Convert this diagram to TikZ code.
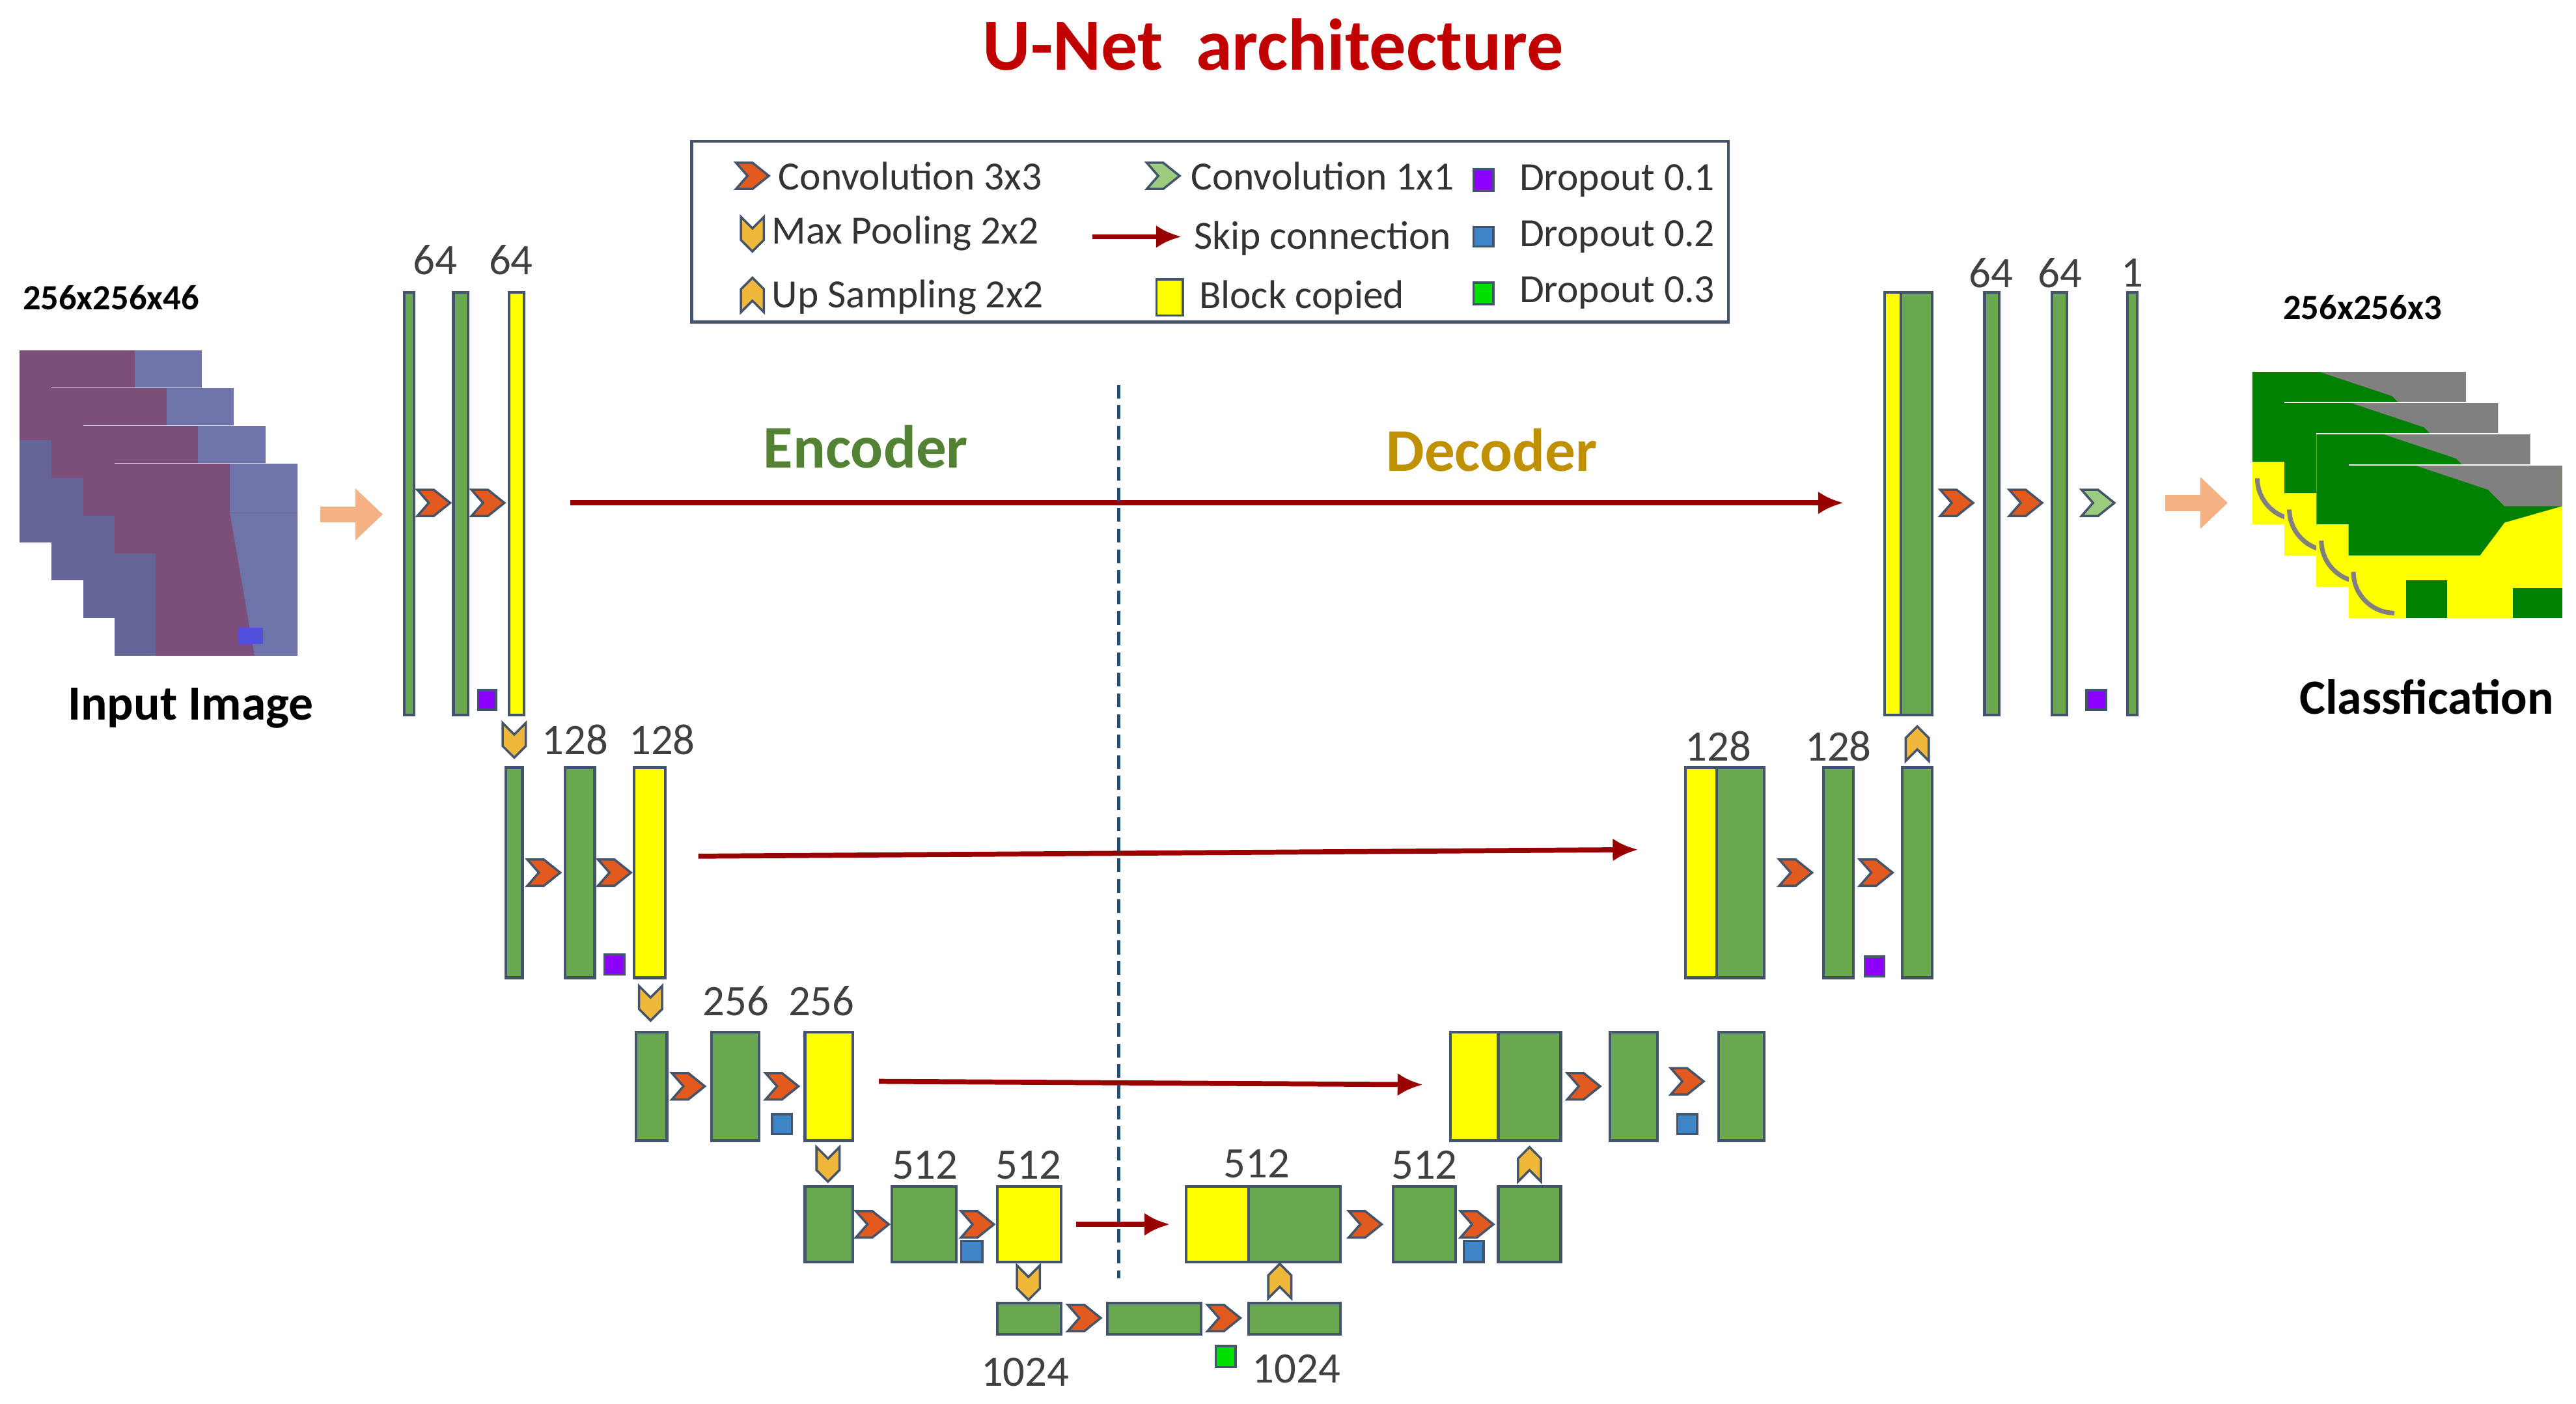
\documentclass[tikz,border=0pt]{standalone}
\usepackage{fontspec}
\setmainfont{Carlito}
\usetikzlibrary{arrows.meta}
\begin{document}
\definecolor{gr}{HTML}{6AA84F}
\definecolor{bd}{HTML}{44546A}
\definecolor{yl}{HTML}{FFFF00}
\definecolor{org}{HTML}{E35A1E}
\definecolor{gold}{HTML}{F0B83A}
\definecolor{lgr}{HTML}{9BCB7F}
\definecolor{skip}{HTML}{990000}
\definecolor{peach}{HTML}{F4B183}
\definecolor{ttl}{HTML}{C00000}
\definecolor{enc}{HTML}{548235}
\definecolor{dec}{HTML}{BF9000}
\definecolor{purp}{HTML}{8B00FF}
\definecolor{blu}{HTML}{3D85C6}
\definecolor{grn}{HTML}{00E000}
\begin{tikzpicture}[x=0.2524mm,y=-0.2524mm,
  blk/.style={draw=bd,line width=1.2pt},
  num/.style={font=\fontsize{19}{21}\selectfont,text=black!75},
  leg/.style={font=\fontsize{17.5}{19}\selectfont,text=black!80,anchor=west},
  bold/.style={font=\bfseries\fontsize{21.5}{23}\selectfont},
  skiparr/.style={draw=skip,line width=2.2pt,-{Latex[length=11pt,width=10pt]}},
  conv/.pic={\draw[fill=org,draw=bd,line width=1pt] (-10,-8)--(0,-8)--(10,0)--(0,8)--(-10,8)--(-3,0)--cycle;},
  convg/.pic={\draw[fill=lgr,draw=bd,line width=1pt] (-10,-8)--(0,-8)--(10,0)--(0,8)--(-10,8)--(-3,0)--cycle;},
  pool/.pic={\draw[fill=gold,draw=bd,line width=1pt] (-7,-10)--(0,-3)--(7,-10)--(7,4)--(0,11)--(-7,4)--cycle;},
  ups/.pic={\draw[fill=gold,draw=bd,line width=1pt] (-7,10)--(0,3)--(7,10)--(7,-4)--(0,-11)--(-7,-4)--cycle;},
  sq/.style={draw=bd,line width=1pt}
]
\useasboundingbox (0,0) rectangle (1568,854);
\node[font=\bfseries\fontsize{32}{35}\selectfont,text=ttl] (title) at (775,27) {U-Net\ \ architecture};
% legend
\draw[draw=bd,line width=1.3pt] (421,86) rectangle (1052,196);
\pic at (458,107) {conv}; \node[leg] (l1) at (469,107) {Convolution 3x3};
\pic at (708,107) {convg}; \node[leg] (l2) at (720,107) {Convolution 1x1};
\draw[sq,fill=purp] (897,103) rectangle (909,116); \node[leg] (l3) at (920,110) {Dropout 0.1};
\pic at (458,142) {pool}; \node[leg] (l4) at (465,142) {Max Pooling 2x2};
\coordinate (la) at (665,144); \coordinate (lb) at (719,144);
\draw[skiparr] (la) -- (lb); \node[leg] (l5) at (722,145) {Skip connection};
\draw[sq,fill=blu] (897,138) rectangle (909,150); \node[leg] (l6) at (920,144) {Dropout 0.2};
\pic at (458,180) {ups}; \node[leg] (l7) at (465,181) {Up Sampling 2x2};
\draw[sq,fill=yl] (704,170) rectangle (720,192); \node[leg] (l8) at (725,181) {Block copied};
\draw[sq,fill=grn] (897,172) rectangle (909,185); \node[leg] (l9) at (920,178) {Dropout 0.3};
% input images
\foreach \i in {0,1,2,3}{
  \begin{scope}[shift={(12+19.3*\i,213+23*\i)}]
    \fill[fill={rgb,255:red,124;green,78;blue,122}] (0,0) rectangle (111,117);
    \fill[fill={rgb,255:red,110;green,115;blue,170}] (70,0) rectangle (111,30);
    \fill[fill={rgb,255:red,110;green,115;blue,170}] (70,30) -- (111,30) -- (111,117) -- (85,117) -- cycle;
    \fill[fill={rgb,255:red,100;green,100;blue,150}] (0,55) rectangle (25,117);
    \fill[fill={rgb,255:red,80;green,80;blue,220}] (75,100) rectangle (90,110);
    \draw[white,opacity=0.7] (0,0) -- (111,0);
  \end{scope}}
\node[font=\bfseries\fontsize{15.5}{17}\selectfont,anchor=west] (in1) at (9,181) {256x256x46};
\node[bold] (in2) at (116,431) {Input Image};
\draw[peach,line width=7pt,-{Triangle[length=12pt,width=22pt]}] (195,313) -- (233,313);
% encoder level 1
\draw[blk,fill=gr] (246,178) rectangle (252,435);
\draw[blk,fill=gr] (276,178) rectangle (285,435);
\draw[blk,fill=yl] (310,178) rectangle (319,435);
\node[num] (n1) at (265,158) {64}; \node[num] (n2) at (311,158) {64};
\pic at (264,306) {conv}; \pic at (297,306) {conv};
\draw[sq,fill=purp] (291,420) rectangle (302,432);
% level 2
\pic at (313,450) {pool};
\draw[blk,fill=gr] (308,467) rectangle (318,595);
\draw[blk,fill=gr] (344,467) rectangle (362,595);
\draw[blk,fill=yl] (386,467) rectangle (405,595);
\node[num] (n3) at (350,450) {128}; \node[num] (n4) at (403,450) {128};
\pic at (331,531) {conv}; \pic at (374,531) {conv};
\draw[sq,fill=purp] (368,581) rectangle (380,593);
% level 3
\pic at (396,610) {pool};
\draw[blk,fill=gr] (387,628) rectangle (406,694);
\draw[blk,fill=gr] (433,628) rectangle (462,694);
\draw[blk,fill=yl] (490,628) rectangle (519,694);
\node[num] (n5) at (448,609) {256}; \node[num] (n6) at (500,609) {256};
\pic at (419,661) {conv}; \pic at (476,661) {conv};
\draw[sq,fill=blu] (470,678) rectangle (482,690);
% level 4
\pic at (504,708) {pool};
\draw[blk,fill=gr] (490,722) rectangle (519,768);
\draw[blk,fill=gr] (543,722) rectangle (582,768);
\draw[blk,fill=yl] (607,722) rectangle (646,768);
\node[num] (n7) at (563,709) {512}; \node[num] (n8) at (626,709) {512};
\pic at (531,745) {conv}; \pic at (595,745) {conv};
\draw[sq,fill=blu] (585,755) rectangle (598,768);
% bottom
\pic at (626,780) {pool};
\draw[blk,fill=gr] (607,793) rectangle (646,812);
\draw[blk,fill=gr] (674,793) rectangle (731,812);
\draw[blk,fill=gr] (760,793) rectangle (816,812);
\pic at (660,802) {conv}; \pic at (745,802) {conv};
\draw[sq,fill=grn] (740,819) rectangle (752,832);
\node[num] (n9) at (624,835) {1024}; \node[num] (n10) at (789,833) {1024};
\pic at (779,780) {ups};
% decoder level 4
\draw[blk,fill=yl] (722,722) rectangle (760,768);
\draw[blk,fill=gr] (760,722) rectangle (816,768);
\node[num] (n11) at (765,708) {512};
\pic at (831,745) {conv};
\draw[blk,fill=gr] (848,722) rectangle (886,768);
\node[num] (n12) at (867,709) {512};
\pic at (899,745) {conv};
\draw[sq,fill=blu] (891,755) rectangle (903,768);
\draw[blk,fill=gr] (912,722) rectangle (950,768);
\pic at (931,709) {ups};
% decoder level 3
\draw[blk,fill=yl] (883,628) rectangle (912,694);
\draw[blk,fill=gr] (912,628) rectangle (950,694);
\pic at (964,661) {conv};
\draw[blk,fill=gr] (980,628) rectangle (1009,694);
\pic at (1027,658) {conv};
\draw[sq,fill=blu] (1021,678) rectangle (1033,690);
\draw[blk,fill=gr] (1046,628) rectangle (1074,694);
% decoder level 2
\draw[blk,fill=yl] (1026,467) rectangle (1045,595);
\draw[blk,fill=gr] (1045,467) rectangle (1074,595);
\node[num] (n13) at (1046,454) {128};
\pic at (1093,531) {conv};
\draw[blk,fill=gr] (1110,467) rectangle (1128,595);
\node[num] (n14) at (1119,454) {128};
\pic at (1142,531) {conv};
\draw[sq,fill=purp] (1135,582) rectangle (1147,594);
\draw[blk,fill=gr] (1158,467) rectangle (1176,595);
\pic at (1167,453) {ups};
% decoder level 1
\draw[blk,fill=yl] (1147,178) rectangle (1157,435);
\draw[blk,fill=gr] (1157,178) rectangle (1176,435);
\pic at (1191,306) {conv};
\draw[blk,fill=gr] (1208,178) rectangle (1217,435);
\node[num] (n15) at (1212,166) {64};
\pic at (1233,306) {conv};
\draw[blk,fill=gr] (1249,178) rectangle (1258,435);
\node[num] (n16) at (1254,166) {64};
\pic at (1277,306) {convg};
\draw[sq,fill=purp] (1270,420) rectangle (1282,432);
\draw[blk,fill=gr] (1295,178) rectangle (1301,435);
\node[num] (n17) at (1298,166) {1};
% skip connections
\coordinate (s1a) at (347,306); \coordinate (s1b) at (1122,306);
\coordinate (s2a) at (425,521); \coordinate (s2b) at (997,517);
\coordinate (s3a) at (535,658); \coordinate (s3b) at (866,660);
\coordinate (s4a) at (655,745); \coordinate (s4b) at (712,745);
\draw[skiparr] (s1a) -- (s1b);
\draw[skiparr] (s2a) -- (s2b);
\draw[skiparr] (s3a) -- (s3b);
\draw[skiparr] (s4a) -- (s4b);
% dashed divider
\draw[draw={rgb,255:red,31;green,78;blue,121},line width=1.3pt,dash pattern=on 6pt off 3pt] (681,234) -- (681,778);
\node[font=\bfseries\fontsize{26.5}{29}\selectfont,text=enc] (enc) at (527,272) {Encoder};
\node[font=\bfseries\fontsize{26.5}{29}\selectfont,text=dec] (dec) at (908,274) {Decoder};
% output
\draw[peach,line width=7pt,-{Triangle[length=12pt,width=22pt]}] (1318,306) -- (1356,306);
\foreach \i in {0,1,2,3}{
  \begin{scope}[shift={(1371+19.5*\i,226+19*\i)}]
    \fill[yl] (0,0) rectangle (130,93);
    \fill[fill={rgb,255:red,0;green,128;blue,0}] (0,0) -- (130,0) -- (130,25) -- (95,35) -- (80,55) -- (0,55) -- cycle;
    \fill[gray] (40,0) -- (130,0) -- (130,25) -- (95,25) -- (85,15) -- cycle;
    \fill[fill={rgb,255:red,0;green,128;blue,0}] (35,70) rectangle (60,93);
    \fill[fill={rgb,255:red,0;green,128;blue,0}] (100,75) rectangle (130,93);
    \draw[gray,line width=2pt] (3,65) arc (180:90:25);
    \draw[white,line width=0.6pt] (0,0) -- (130,0);
  \end{scope}}
\node[font=\bfseries\fontsize{15.5}{17}\selectfont] (out1) at (1438,187) {256x256x3};
\node[bold] (out2) at (1477,424) {Classfication};
\end{tikzpicture}
\end{document}
